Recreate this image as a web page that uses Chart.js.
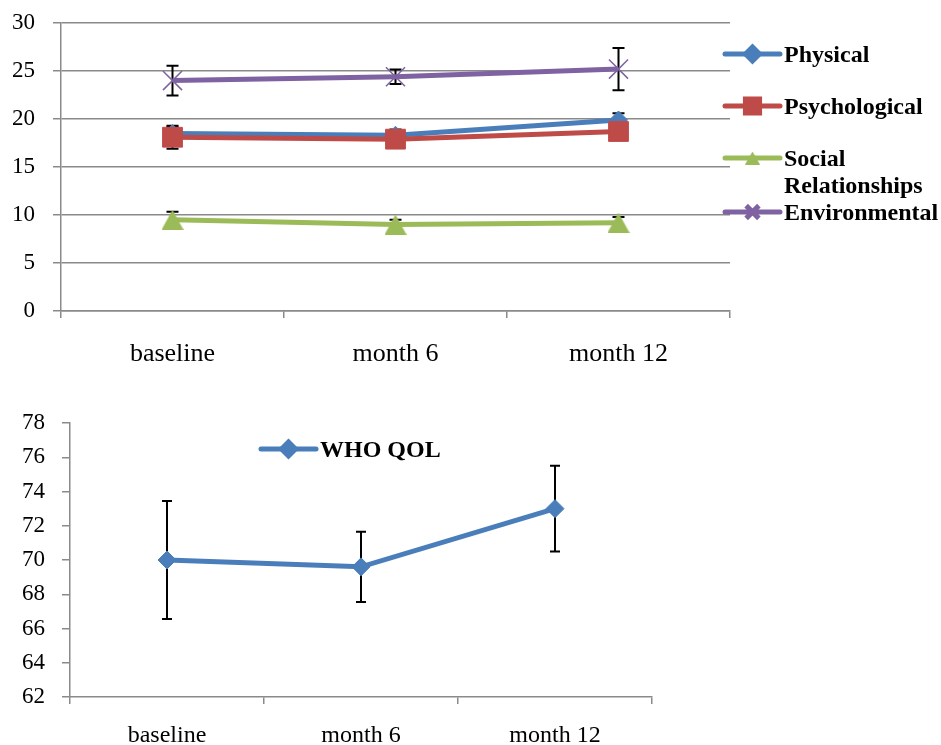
<!DOCTYPE html>
<html>
<head>
<meta charset="utf-8">
<script src="https://cdn.jsdelivr.net/npm/chart.js@4/dist/chart.umd.min.js"></script>
<style>
  html, body { margin: 0; padding: 0; background: #fff; width: 941px; height: 745px; overflow: hidden; }
  canvas { position: absolute; left: 0; }
  #domains { top: 0; }
  #total { top: 390px; }
</style>
</head>
<body>
<canvas id="domains" width="941" height="380"></canvas>
<canvas id="total" width="941" height="370"></canvas>
<script>
// Visits
const categories = ['baseline', 'month 6', 'month 12'];

// WHOQOL domain scores (mean) and error bar half-widths
const physical = [18.5, 18.3, 19.9];
const physicalErr = [0.7, 0.6, 0.7];
const psychological = [18.1, 17.9, 18.7];
const psychologicalErr = [1.2, 0.9, 0.9];
const social = [9.5, 9.0, 9.2];
const socialErr = [0.85, 0.5, 0.6];
const environmental = [24.0, 24.4, 25.2];
const environmentalErr = [1.55, 0.75, 2.2];

// Overall WHO QOL score
const whoQol = [70.0, 69.6, 73.0];
const whoQolErr = [3.45, 2.05, 2.5];

// Axis ticks
const domainTicks = { min: 0, max: 30, step: 5 };
const totalTicks = { min: 62, max: 78, step: 2 };

const SERIF = "'Liberation Serif', 'Times New Roman', serif";
const AXIS_GRAY = '#8a8a8a';
const GREEN = '#9BBB59';

// Triangle marker centred in its bounding box
function triangleMarker(w, h, color) {
  const c = document.createElement('canvas');
  c.width = w; c.height = h;
  const g = c.getContext('2d');
  g.fillStyle = color;
  g.beginPath();
  g.moveTo(w / 2, 0); g.lineTo(w, h); g.lineTo(0, h);
  g.closePath(); g.fill();
  return c;
}
const triBig = triangleMarker(22, 20, GREEN);
const triSmall = triangleMarker(15, 13, GREEN);

// Vertical error bars with caps, drawn beneath the lines and markers
function errorBars(capHalf) {
  return {
    id: 'errorBars',
    beforeDatasetsDraw(chart) {
      const ctx = chart.ctx;
      const y = chart.scales.y;
      ctx.save();
      ctx.strokeStyle = '#000';
      ctx.lineWidth = 2;
      chart.data.datasets.forEach((ds, i) => {
        if (!ds.errors) return;
        const meta = chart.getDatasetMeta(i);
        meta.data.forEach((pt, j) => {
          const v = ds.data[j], e = ds.errors[j];
          const top = y.getPixelForValue(v + e);
          const bot = y.getPixelForValue(v - e);
          ctx.beginPath();
          ctx.moveTo(pt.x, top); ctx.lineTo(pt.x, bot);
          ctx.moveTo(pt.x - capHalf, top); ctx.lineTo(pt.x + capHalf, top);
          ctx.moveTo(pt.x - capHalf, bot); ctx.lineTo(pt.x + capHalf, bot);
          ctx.stroke();
        });
      });
      ctx.restore();
    }
  };
}

// Legend: line sample with marker and bold label, placed freely
function freeLegend(layout) {
  return {
    id: 'freeLegend',
    afterDraw(chart) {
      const ctx = chart.ctx;
      ctx.save();
      chart.data.datasets.forEach((ds, i) => {
        const item = layout.items[i];
        if (!item) return;
        const x0 = layout.x, x1 = layout.x + layout.lineLength;
        ctx.strokeStyle = ds.borderColor;
        ctx.lineWidth = ds.borderWidth;
        ctx.lineCap = 'round';
        ctx.beginPath();
        ctx.moveTo(x0, item.y); ctx.lineTo(x1, item.y);
        ctx.stroke();
        ctx.lineCap = 'butt';
        ctx.fillStyle = ds.pointBackgroundColor;
        ctx.strokeStyle = ds.pointBorderColor;
        Chart.helpers.drawPoint(ctx, {
          pointStyle: item.marker || ds.pointStyle,
          radius: item.r,
          rotation: 0,
          borderWidth: ds.pointBorderWidth
        }, (x0 + x1) / 2, item.y);
        ctx.fillStyle = '#000';
        ctx.font = 'bold 24px ' + SERIF;
        ctx.textBaseline = 'middle';
        ctx.textAlign = 'left';
        const lines = item.wrap ? ds.label.split(' ') : [ds.label];
        lines.forEach((t, k) => ctx.fillText(t, x1 + 4, item.y + 2 + k * (item.lineGap || 0)));
      });
      ctx.restore();
    }
  };
}

function series(label, data, errors, color, style, radius, order, borderW) {
  return {
    label, data, errors, order,
    borderColor: color,
    backgroundColor: color,
    borderWidth: 5,
    pointStyle: style,
    pointRadius: radius,
    pointBackgroundColor: color,
    pointBorderColor: color,
    pointBorderWidth: borderW,
    tension: 0,
    fill: false
  };
}

new Chart(document.getElementById('domains'), {
  type: 'line',
  data: {
    labels: categories,
    datasets: [
      series('Physical', physical, physicalErr, '#4A7EBB', 'rectRot', 9, 4, 1),
      series('Psychological', psychological, psychologicalErr, '#BE4B48', 'rect', 14, 3, 1),
      series('Social Relationships', social, socialErr, GREEN, triBig, 11, 2, 1),
      series('Environmental', environmental, environmentalErr, '#7F62A1', 'crossRot', 13.5, 1, 1.5)
    ]
  },
  options: {
    responsive: false,
    animation: false,
    events: [],
    layout: { padding: { top: 23, right: 211, left: 0, bottom: 0 } },
    plugins: { legend: { display: false }, tooltip: { enabled: false } },
    scales: {
      x: {
        offset: true,
        grid: { offset: true, drawOnChartArea: false, color: AXIS_GRAY, lineWidth: 1.5, tickLength: 7 },
        border: { color: AXIS_GRAY, width: 1.5 },
        ticks: { font: { family: SERIF, size: 26 }, color: '#000', padding: 21, maxRotation: 0, autoSkip: false },
        afterFit: s => { s.height = 69; }
      },
      y: {
        min: domainTicks.min, max: domainTicks.max,
        ticks: { stepSize: domainTicks.step, font: { family: SERIF, size: 23 }, color: '#000', padding: 18 },
        grid: { color: AXIS_GRAY, lineWidth: 1.5, tickLength: 8 },
        border: { color: AXIS_GRAY, width: 1.5 },
        afterFit: s => { s.width = 61; s.paddingTop = 10; s.paddingBottom = 10; }
      }
    }
  },
  plugins: [
    errorBars(6),
    freeLegend({
      x: 725, lineLength: 55,
      items: [
        { y: 54, r: 7 },
        { y: 106, r: 10 },
        { y: 158, r: 8, marker: triSmall, wrap: true, lineGap: 27 },
        { y: 212, r: 9 }
      ]
    })
  ]
});

new Chart(document.getElementById('total'), {
  type: 'line',
  data: {
    labels: categories,
    datasets: [
      series('WHO QOL', whoQol, whoQolErr, '#4A7EBB', 'rectRot', 9, 1, 1)
    ]
  },
  options: {
    responsive: false,
    animation: false,
    events: [],
    layout: { padding: { top: 33, right: 289, left: 0, bottom: 0 } },
    plugins: { legend: { display: false }, tooltip: { enabled: false } },
    scales: {
      x: {
        offset: true,
        grid: { offset: true, drawOnChartArea: false, color: AXIS_GRAY, lineWidth: 1.5, tickLength: 7 },
        border: { color: AXIS_GRAY, width: 1.5 },
        ticks: { font: { family: SERIF, size: 24 }, color: '#000', padding: 17, maxRotation: 0, autoSkip: false },
        afterFit: s => { s.height = 63; }
      },
      y: {
        min: totalTicks.min, max: totalTicks.max,
        ticks: { stepSize: totalTicks.step, font: { family: SERIF, size: 23 }, color: '#000', padding: 17 },
        grid: { drawOnChartArea: false, color: AXIS_GRAY, lineWidth: 1.5, tickLength: 8 },
        border: { color: AXIS_GRAY, width: 1.5 },
        afterFit: s => { s.width = 70; s.paddingTop = 10; s.paddingBottom = 10; }
      }
    }
  },
  plugins: [
    errorBars(5),
    freeLegend({ x: 261, lineLength: 55, items: [ { y: 59, r: 7 } ] })
  ]
});
</script>
</body>
</html>
